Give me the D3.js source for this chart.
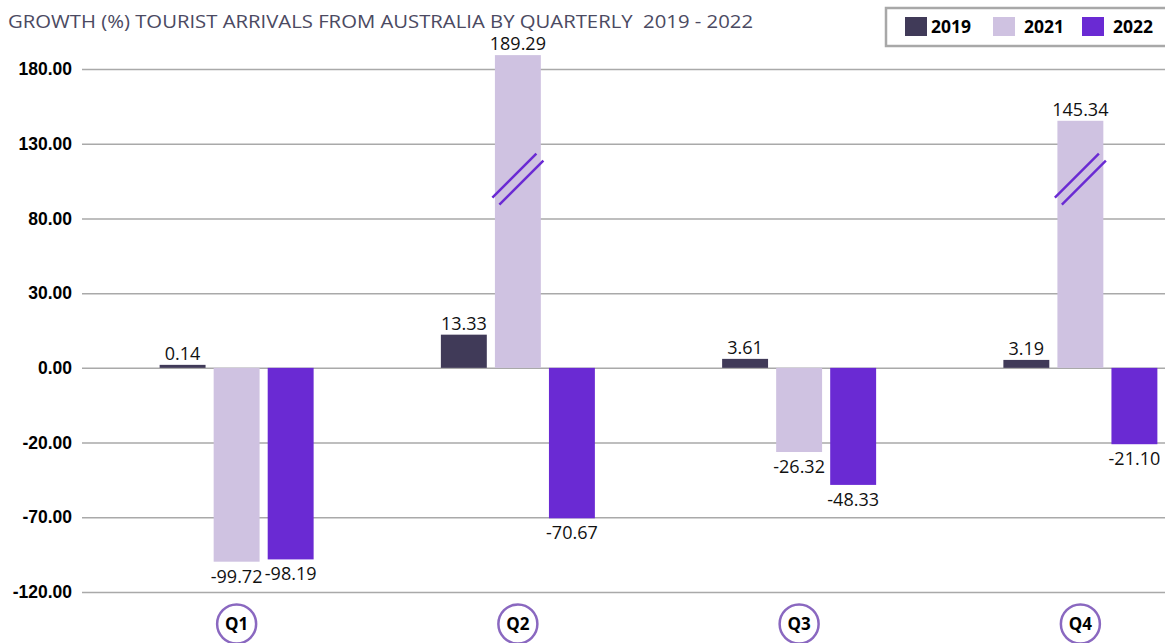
<!DOCTYPE html>
<html>
<head>
<meta charset="utf-8">
<script src="https://cdn.jsdelivr.net/npm/d3@7"></script>
<style>
  body { margin: 0; background: #fff; }
  svg { display: block; font-family: "Open Sans", "DejaVu Sans", sans-serif; }
  .grid line { stroke: #a9a9a9; stroke-width: 1.5; }
  .grid path { display: none; }
  .y-axis text { font-weight: 700; font-size: 17.5px; fill: #000; }
  .y-axis path, .y-axis line { display: none; }
  .bar-label { font-size: 18px; fill: #111; }
</style>
</head>
<body>
<div id="chart"></div>
<script>
const quarters = [`Q1`, `Q2`, `Q3`, `Q4`];
const years = [`2019`, `2021`, `2022`];
const values2019 = [0.14, 13.33, 3.61, 3.19];
const values2021 = [-99.72, 189.29, -26.32, 145.34];
const values2022 = [-98.19, -70.67, -48.33, -21.10];
const tickValues = [-120, -70, -20, 0, 30, 80, 130, 180];
const brokenBars = [{quarter: `Q2`, year: `2021`}, {quarter: `Q4`, year: `2021`}];

const colors = {'2019': `#403a58`, '2021': `#cfc2e1`, '2022': `#6a2ad3`};
const width = 1165;
const height = 643;
const plotTop = 69;
const plotBottom = 592;

const series = {'2019': values2019, '2021': values2021, '2022': values2022};
const data = quarters.map((q, i) => ({
  quarter: q,
  values: years.map(y => ({year: y, value: series[y][i]})),
}));

// plain hyphen for negatives, like the source
const fmt = d3.formatLocale({decimal: `.`, thousands: `,`, grouping: [3], currency: [``, ``], minus: `-`}).format(`.2f`);

const svg = d3.select(`#chart`).append(`svg`)
  .attr(`width`, width)
  .attr(`height`, height);

// axis is not linear: every tick sits at an equal step
const step = (plotBottom - plotTop) / (tickValues.length - 1);
const y = d3.scaleLinear()
  .domain(tickValues)
  .range(tickValues.map((d, i) => plotBottom - i * step));

const x0 = d3.scaleBand()
  .domain(quarters)
  .range([96, 1221]);

const groupWidth = 154;
const x1 = d3.scaleBand()
  .domain(years)
  .range([0, groupWidth])
  .paddingInner(0.15);

// title
svg.append(`text`)
  .attr(`x`, 8)
  .attr(`y`, 28)
  .attr(`fill`, `#4b4a62`)
  .style(`font-size`, `17.5px`)
  .style(`white-space`, `pre`)
  .attr(`textLength`, 745)
  .attr(`lengthAdjust`, `spacingAndGlyphs`)
  .text(`GROWTH (%) TOURIST ARRIVALS FROM AUSTRALIA BY QUARTERLY  2019 - 2022`);

// grid lines
svg.append(`g`)
  .attr(`class`, `grid`)
  .attr(`transform`, `translate(82,0)`)
  .call(d3.axisLeft(y).tickValues(tickValues).tickSize(-(width - 82)).tickFormat(``));

// y axis labels
svg.append(`g`)
  .attr(`class`, `y-axis`)
  .attr(`transform`, `translate(72,0)`)
  .call(d3.axisLeft(y).tickValues(tickValues).tickSize(0).tickPadding(0).tickFormat(fmt));

// bars
const groups = svg.selectAll(`.group`)
  .data(data)
  .enter().append(`g`)
  .attr(`class`, `group`)
  .attr(`transform`, d => `translate(${x0(d.quarter) + (x0.bandwidth() - groupWidth) / 2},0)`);

const barTop = d => Math.min(y(d.value), y(0) - 3);
const barHeight = d => Math.max(Math.abs(y(d.value) - y(0)), 3);

groups.selectAll(`rect`)
  .data(d => d.values)
  .enter().append(`rect`)
  .attr(`x`, d => x1(d.year))
  .attr(`y`, d => d.value >= 0 ? barTop(d) : y(0))
  .attr(`width`, x1.bandwidth())
  .attr(`height`, barHeight)
  .attr(`fill`, d => colors[d.year]);

groups.selectAll(`.bar-label`)
  .data(d => d.values)
  .enter().append(`text`)
  .attr(`class`, `bar-label`)
  .attr(`text-anchor`, `middle`)
  .attr(`x`, d => x1(d.year) + x1.bandwidth() / 2)
  .attr(`y`, d => d.value >= 0 ? barTop(d) - 5 : y(d.value) + 21)
  .text(d => fmt(d.value));

// axis break marks on the tall bars
const breakAt = 105;
brokenBars.forEach(b => {
  const cx = x0(b.quarter) + (x0.bandwidth() - groupWidth) / 2 + x1(b.year) + x1.bandwidth() / 2;
  const cy = y(breakAt);
  [-3.5, 3.5].forEach(off => {
    svg.append(`line`)
      .attr(`x1`, cx - 22 + off)
      .attr(`y1`, cy + 20 + off)
      .attr(`x2`, cx + 22 + off)
      .attr(`y2`, cy - 24 + off)
      .attr(`stroke`, `#6a2ad3`)
      .attr(`stroke-width`, 2.5);
  });
});

// quarter badges
const badges = svg.selectAll(`.badge`)
  .data(quarters)
  .enter().append(`g`)
  .attr(`class`, `badge`)
  .attr(`transform`, d => `translate(${x0(d) + x0.bandwidth() / 2},624)`);

badges.append(`circle`)
  .attr(`r`, 19.5)
  .attr(`fill`, `#fff`)
  .attr(`stroke`, `#8a68c0`)
  .attr(`stroke-width`, 2.5);

badges.append(`text`)
  .attr(`text-anchor`, `middle`)
  .attr(`dy`, `0.36em`)
  .style(`font-size`, `17px`)
  .style(`font-weight`, 700)
  .text(d => d);

// legend
const legend = svg.append(`g`)
  .attr(`transform`, `translate(886,8)`);

legend.append(`rect`)
  .attr(`width`, 300)
  .attr(`height`, 38)
  .attr(`fill`, `#fff`)
  .attr(`stroke`, `#a8a8a8`)
  .attr(`stroke-width`, 2.5);

const legendX = {'2019': 19, '2021': 107, '2022': 196};
const legendItems = legend.selectAll(`.legend-item`)
  .data(years)
  .enter().append(`g`)
  .attr(`class`, `legend-item`)
  .attr(`transform`, d => `translate(${legendX[d]},9)`);

legendItems.append(`rect`)
  .attr(`width`, 22)
  .attr(`height`, 19)
  .attr(`fill`, d => colors[d]);

legendItems.append(`text`)
  .attr(`x`, d => d === `2019` ? 26 : 31)
  .attr(`y`, 16)
  .style(`font-size`, `17.5px`)
  .style(`font-weight`, 700)
  .text(d => d);
</script>
</body>
</html>
